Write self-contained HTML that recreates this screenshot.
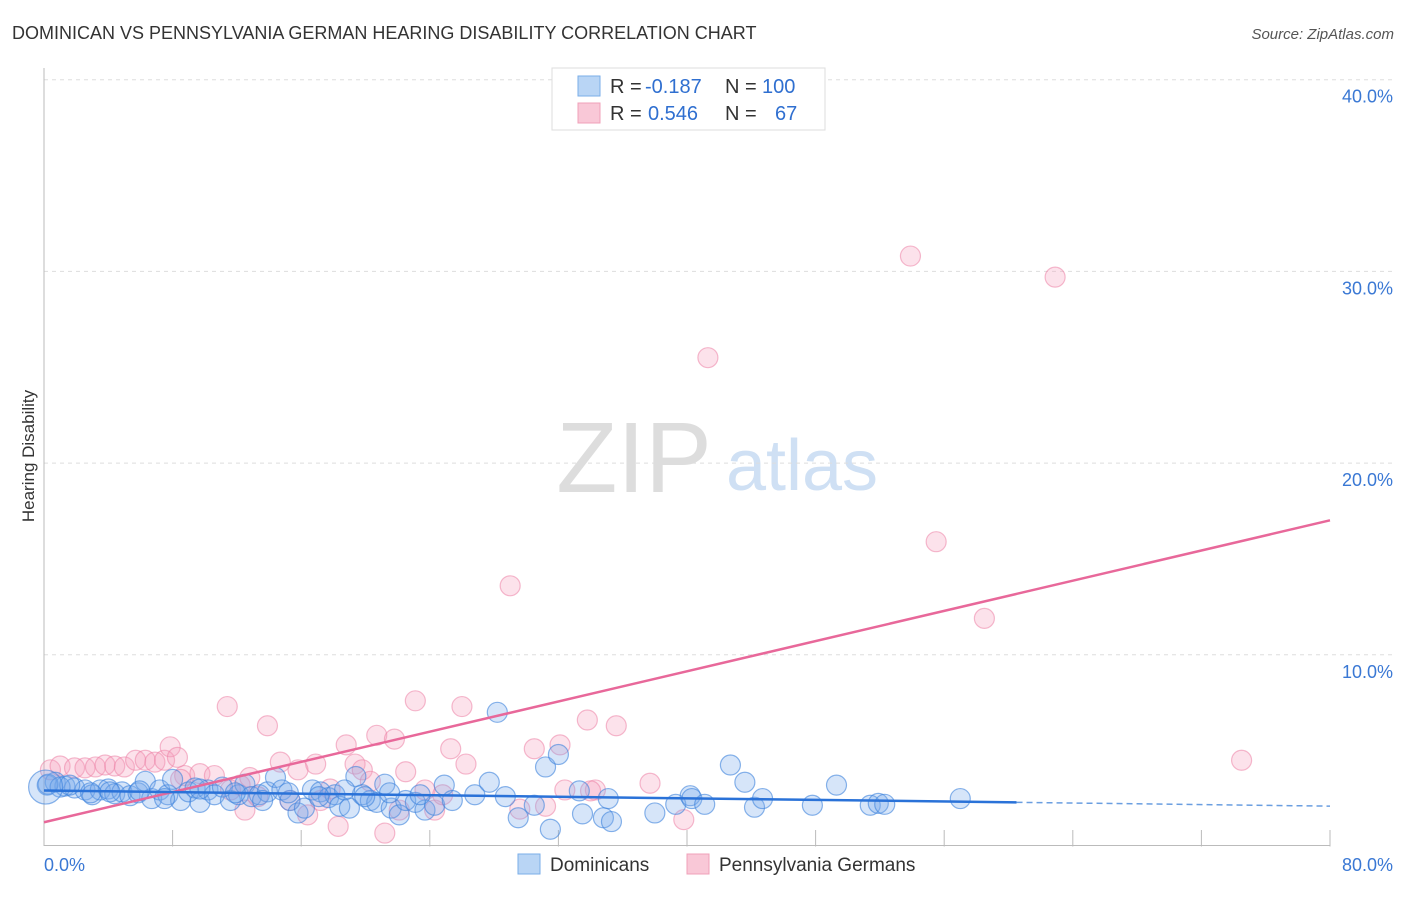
<!DOCTYPE html>
<html><head><meta charset="utf-8"><style>
body{margin:0;background:#fff;font-family:"Liberation Sans",sans-serif}
svg text{font-family:"Liberation Sans",sans-serif}
</style></head><body>
<svg id="chart" width="1406" height="892" xmlns="http://www.w3.org/2000/svg">
<text x="12" y="39" font-size="18" fill="#333">DOMINICAN VS PENNSYLVANIA GERMAN HEARING DISABILITY CORRELATION CHART</text>
<text x="1394" y="39" font-size="15" fill="#555" text-anchor="end" font-style="italic">Source: ZipAtlas.com</text>
<text transform="translate(34,456) rotate(-90)" font-size="17" fill="#333" text-anchor="middle">Hearing Disability</text>
<g>
<text x="634" y="492" font-size="100" fill="#ddd" font-family="Liberation Serif" text-anchor="middle">ZIP</text>
<text x="802" y="490" font-size="72" fill="#cfe0f4" text-anchor="middle">atlas</text></g>
<g id="grid"></g><g id="marks"></g><g id="lines"></g>
<g>
<rect x="552" y="68" width="273" height="62" fill="#fff" stroke="#ddd"/>
<rect x="578" y="76" width="22" height="20" fill="#b9d5f5" stroke="#7aaee8"/>
<rect x="578" y="103" width="22" height="20" fill="#f9c8d7" stroke="#f0a0b8"/>
<text x="610" y="93" font-size="20" fill="#333">R =</text>
<text x="645" y="93" font-size="20" fill="#2f6fd0">-0.187</text>
<text x="725" y="93" font-size="20" fill="#333">N =</text>
<text x="762" y="93" font-size="20" fill="#2f6fd0">100</text>
<text x="610" y="120" font-size="20" fill="#333">R =</text>
<text x="648" y="120" font-size="20" fill="#2f6fd0">0.546</text>
<text x="725" y="120" font-size="20" fill="#333">N =</text>
<text x="775" y="120" font-size="20" fill="#2f6fd0">67</text></g>
<g>
<rect x="518" y="854" width="22" height="20" fill="#b9d5f5" stroke="#7aaee8"/>
<text x="550" y="871" font-size="19" fill="#333">Dominicans</text>
<rect x="687" y="854" width="22" height="20" fill="#f9c8d7" stroke="#f0a0b8"/>
<text x="719" y="871" font-size="19" fill="#333">Pennsylvania Germans</text></g>
</svg>
<script>
const yTicks=[10,20,30,40];
const yTickLabels=["10.0%","20.0%","30.0%","40.0%"];
const xTickLabels=["0.0%","80.0%"];
const blueX=[0.2,0.7,1.3,1.9,2.55,3.0,3.5,4.0,4.4,4.85,5.35,5.85,6.3,6.7,7.2,7.7,8.0,8.5,9.0,9.4,9.7,10.2,10.6,11.1,11.6,12.1,12.5,12.9,13.4,13.9,14.4,14.8,15.3,15.8,16.2,16.7,17.2,17.7,18.1,18.4,19.0,19.4,19.8,20.3,20.7,21.2,21.6,22.1,22.5,23.1,23.7,24.3,24.9,25.4,26.8,27.7,28.2,28.7,29.5,30.5,31.2,31.5,32.0,33.5,33.3,34.8,35.3,35.1,38.0,39.3,40.2,40.3,41.1,42.7,43.6,44.2,44.7,47.8,49.3,51.4,51.9,52.3,57.0,0.25,1.0,1.6,2.9,4.1,5.95,7.5,9.7,11.9,13.6,15.2,17.1,18.7,19.95,21.5,23.4,0.1];
const blueY=[3.2,3.35,3.15,3.05,2.95,2.7,2.95,3.0,2.75,2.85,2.65,2.8,3.4,2.5,2.95,2.7,3.5,2.4,2.85,3.05,2.3,2.95,2.7,3.1,2.4,2.7,3.25,2.6,2.7,2.85,3.6,2.95,2.4,1.75,2.0,2.95,2.85,2.55,2.7,2.1,2.0,3.65,2.7,2.4,2.3,3.25,2.0,1.65,2.4,2.3,1.9,2.15,3.2,2.4,2.7,3.35,7.0,2.6,1.5,2.15,4.15,0.9,4.8,1.7,2.9,1.5,1.3,2.5,1.75,2.2,2.65,2.5,2.2,4.25,3.35,2.05,2.5,2.15,3.2,2.15,2.25,2.2,2.5,3.25,3.1,3.2,2.8,2.85,2.9,2.5,3.0,2.8,2.4,2.8,2.6,2.95,2.6,2.8,2.7,3.1];
const pinkX=[0.4,1.0,1.9,2.55,3.2,3.8,4.4,5.0,5.7,6.3,6.9,7.5,7.85,8.3,8.75,9.7,10.6,11.4,12.2,12.5,12.8,13.3,13.9,14.7,15.3,15.8,16.4,16.9,17.8,18.3,18.8,19.35,19.8,20.3,20.7,21.2,21.8,22.5,23.1,23.7,24.3,24.8,25.3,26.0,26.25,29.0,29.6,30.5,31.2,32.1,32.4,33.8,34.3,35.6,37.7,39.8,41.3,53.9,55.5,58.5,62.9,74.5,34.0,22.1,17.2,8.5,11.6];
const pinkY=[4.0,4.2,4.1,4.1,4.15,4.25,4.2,4.15,4.5,4.5,4.4,4.5,5.2,4.65,3.7,3.8,3.7,7.3,3.2,1.9,3.6,2.6,6.3,4.4,2.4,4.0,1.65,4.3,3.0,1.05,5.3,4.3,4.0,3.4,5.8,0.7,5.6,3.9,7.6,2.95,1.9,2.7,5.1,7.3,4.3,13.6,1.95,5.1,2.1,5.3,2.95,6.6,2.95,6.3,3.3,1.4,25.5,30.8,15.9,11.9,29.7,4.5,2.9,1.9,2.4,3.5,2.95];
const NS="http://www.w3.org/2000/svg";
const X0=44,X1=1330,Y0=846.5,YP=19.17;
const sx=v=>X0+(X1-X0)*v/80, sy=v=>Y0-v*YP;
function mk(tag,attrs,parent){const e=document.createElementNS(NS,tag);for(const k in attrs)e.setAttribute(k,attrs[k]);parent.appendChild(e);return e;}
const grid=document.getElementById('grid'),marks=document.getElementById('marks'),lines=document.getElementById('lines');
yTicks.forEach((t,i)=>{
 const l=mk('line',{x1:X0,x2:1395,y1:sy(t),y2:sy(t),stroke:'#ddd','stroke-dasharray':'4,4'},grid);
 
 
 const tx=mk('text',{x:1393,y:sy(t)+23,'font-size':18,fill:'#3a78d4','text-anchor':'end'},grid);
 tx.textContent=yTickLabels[i];
 
 
});
const ax=mk('path',{d:`M${X0},68V${Y0-1}H${X1}`,stroke:'#bbb',fill:'none'},grid);


for(let k=1;k<=10;k++){const tk=mk('line',{x1:sx(k*8),x2:sx(k*8),y1:830,y2:Y0,stroke:'#bbb'},grid);
 
 }
[[0,'start',44],[80,'end',1393]].forEach((d,i)=>{const t=mk('text',{x:d[2],y:871,'font-size':18,fill:'#3a78d4','text-anchor':d[1]},grid);t.textContent=xTickLabels[i];
 
 });
function pts(xs,ys,fill,stroke,name){xs.forEach((x,i)=>{const c=mk('circle',{cx:sx(x),cy:sy(ys[i]),r:(i===xs.length-1&&name==='dominican-point')?17:10,fill:fill,stroke:stroke,'stroke-width':1.2},marks);
 
 });}
pts(pinkX,pinkY,'rgba(244,160,188,0.3)','rgba(236,130,165,0.55)','pennsylvania-german-point');
pts(blueX,blueY,'rgba(120,170,235,0.3)','rgba(60,130,220,0.6)','dominican-point');
function reg(xs,ys){const n=xs.length;let mx=0,my=0;for(let i=0;i<n;i++){mx+=xs[i];my+=ys[i];}mx/=n;my/=n;let a=0,b=0;for(let i=0;i<n;i++){a+=(xs[i]-mx)*(ys[i]-my);b+=(xs[i]-mx)**2;}const s=a/b;return [my-s*mx,s];}
const [pb,ps]=reg(pinkX,pinkY);
const pl=mk('line',{x1:sx(0),y1:sy(pb),x2:sx(80),y2:sy(pb+ps*80),stroke:'#e8689a','stroke-width':2.5},lines);


const [bb,bs]=reg(blueX,blueY);
const bl=mk('line',{x1:sx(0),y1:sy(bb),x2:sx(60.5),y2:sy(bb+bs*60.5),stroke:'#2a72d8','stroke-width':2.5},lines);


const bd=mk('line',{x1:sx(60.5),y1:sy(bb+bs*60.5),x2:sx(80),y2:sy(bb+bs*80),stroke:'#6a9ee0','stroke-width':1.5,'stroke-dasharray':'6,4'},lines);


</script>
</body></html>
